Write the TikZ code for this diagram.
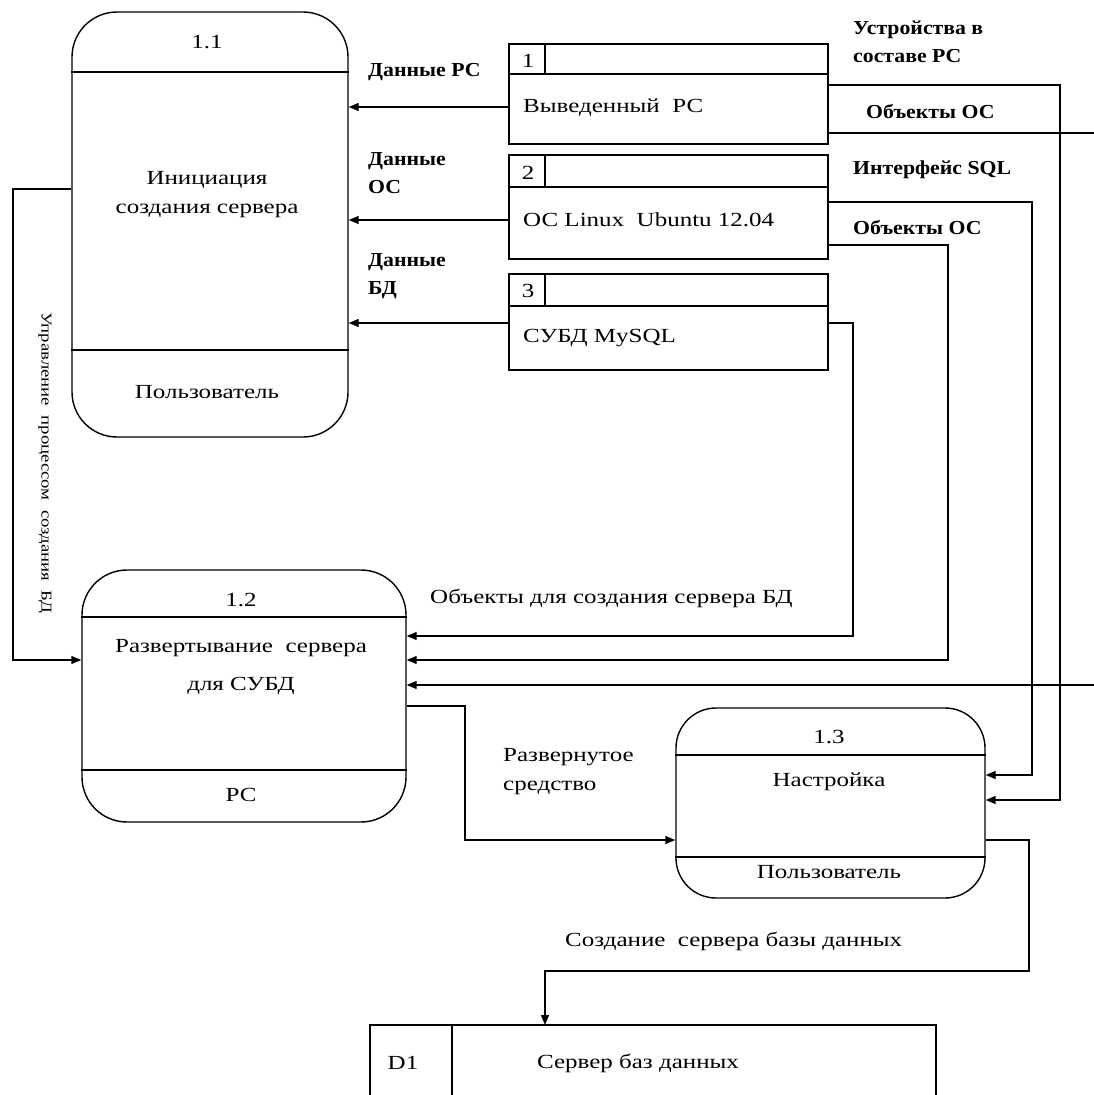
\documentclass[tikz,border=0pt]{standalone}
\usepackage{fontspec}
\setmainfont{Liberation Serif}[FakeStretch=1.25]
\newfontfamily\lblfam{Liberation Serif}[FakeStretch=1.1]
\usetikzlibrary{arrows.meta}
\newcommand{\mainsz}{\fontsize{20}{29}\selectfont}
\newcommand{\lblsz}{\lblfam\bfseries\fontsize{19.8}{28}\selectfont}
\tikzset{
  box/.style={draw, line width=1.4pt, rounded corners=45pt, inner sep=0pt},
  store/.style={draw, line width=1.4pt, inner sep=0pt},
  ln/.style={line width=1.4pt},
  arr/.style={line width=1.4pt, -{Triangle[length=10pt,width=8pt]}},
  txt/.style={font=\mainsz, inner sep=0pt, align=center},
  lbl/.style={font=\lblsz, inner sep=0pt, align=left, anchor=west},
  rlbl/.style={font=\mainsz, inner sep=0pt, align=left, anchor=west},
}
\begin{document}
\begin{tikzpicture}[x=1pt,y=-1pt]
\useasboundingbox (0,0) rectangle (1094,1095);
% processes
\node[box, minimum width=276pt, minimum height=425pt] (p11) at (210,224.5) {};
\draw[ln] (p11.west |- 0,72) -- (p11.east |- 0,72);
\draw[ln] (p11.west |- 0,350) -- (p11.east |- 0,350);
\node[txt] (n11) at (207,42) {1.1};
\node[txt] (t11) at (207,195) {Инициация\\создания сервера};
\node[txt] (u11) at (207,392) {Пользователь};

\node[box, minimum width=324pt, minimum height=252pt] (p12) at (244,696) {};
\draw[ln] (p12.west |- 0,617) -- (p12.east |- 0,617);
\draw[ln] (p12.west |- 0,770) -- (p12.east |- 0,770);
\node[txt] (n12) at (241,600) {1.2};
\node[txt, font=\fontsize{20}{38}\selectfont] (t12) at (241,667) {Развертывание\ \ сервера\\для СУБД};
\node[txt] (u12) at (241,795) {РС};

\node[box, rounded corners=40pt, minimum width=309pt, minimum height=190pt] (p13) at (830.5,803) {};
\draw[ln] (p13.west |- 0,755) -- (p13.east |- 0,755);
\draw[ln] (p13.west |- 0,857) -- (p13.east |- 0,857);
\node[txt] (n13) at (829,737) {1.3};
\node[txt] (t13) at (829,782) {Настройка};
\node[txt] (u13) at (829,872) {Пользователь};

% stores
\node[store, minimum width=319pt, minimum height=100pt] (s1) at (668.5,94) {};
\draw[ln] (s1.west |- 0,74) -- (s1.east |- 0,74);
\draw[ln] (545,44) -- (545,74);
\node[txt] (k1) at (528,61) {1};
\node[txt, anchor=west] (w1) at (523,108) {Выведенный\ \ РС};

\node[store, minimum width=319pt, minimum height=104pt] (s2) at (668.5,207) {};
\draw[ln] (s2.west |- 0,187) -- (s2.east |- 0,187);
\draw[ln] (545,155) -- (545,187);
\node[txt] (k2) at (528,173) {2};
\node[txt, anchor=west] (w2) at (523,220) {ОС Linux\ \ Ubuntu 12.04};

\node[store, minimum width=319pt, minimum height=96pt] (s3) at (668.5,322) {};
\draw[ln] (s3.west |- 0,306) -- (s3.east |- 0,306);
\draw[ln] (545,274) -- (545,306);
\node[txt] (k3) at (528,291) {3};
\node[txt, anchor=west] (w3) at (523,338) {СУБД MySQL};

% D1 store (cut at bottom)
\draw[ln] (370,1096) -- (370,1025) -- (936,1025) -- (936,1096);
\draw[ln] (452,1025) -- (452,1096);
\coordinate (d1n) at (545,1025);
\node[txt] (kd) at (403,1063) {D1};
\node[txt] (wd) at (638,1063) {Сервер баз данных};

% labels
\node[lbl] (l1) at (368,72) {Данные РС};
\node[lbl] (l2) at (368,173.5) {Данные\\ОС};
\node[lbl] (l3) at (368,276) {Данные\\БД};
\node[lbl] (l4) at (853,42) {Устройства в\\составе РС};
\node[lbl] (l5) at (866,112) {Объекты ОС};
\node[lbl] (l6) at (853,170) {Интерфейс SQL};
\node[lbl] (l7) at (853,228) {Объекты ОС};
\node[rlbl] (l8) at (430,598) {Объекты для создания сервера БД};
\node[rlbl] (l9) at (503,771.5) {Развернутое\\средство};
\node[rlbl] (l10) at (565,941) {Создание\ \ сервера базы данных};
\node[font=\fontsize{15}{18}\selectfont, inner sep=0pt, rotate=-90] (l11) at (45,463) {Управление\ \ процессом\ \ создания\ \ БД};

% connectors
\draw[arr] (s1.west |- 0,107) -- (p11.east |- 0,107);
\draw[arr] (s2.west |- 0,220) -- (p11.east |- 0,220);
\draw[arr] (s3.west |- 0,323) -- (p11.east |- 0,323);
\draw[arr] (p11.west |- 0,189) -- (13,189) -- (13,660) -- (p12.west |- 0,660);
\draw[arr] (s3.east |- 0,323) -- (853,323) -- (853,636) -- (p12.east |- 0,636);
\draw[arr] (s2.east |- 0,245) -- (948,245) -- (948,660) -- (p12.east |- 0,660);
\coordinate (r1) at (1094,685);
\coordinate (r2) at (1094,133);
\draw[arr] (r1) -- (p12.east |- 0,685);
\draw[ln] (s1.east |- 0,133) -- (r2);
\draw[arr] (s1.east |- 0,85) -- (1060,85) -- (1060,800) -- (p13.east |- 0,800);
\draw[arr] (s2.east |- 0,202) -- (1032,202) -- (1032,775) -- (p13.east |- 0,775);
\draw[arr] (p12.east |- 0,706) -- (465,706) -- (465,840) -- (p13.west |- 0,840);
\draw[arr] (p13.east |- 0,840) -- (1029,840) -- (1029,971) -- (545,971) -- (d1n);
\end{tikzpicture}
\end{document}
